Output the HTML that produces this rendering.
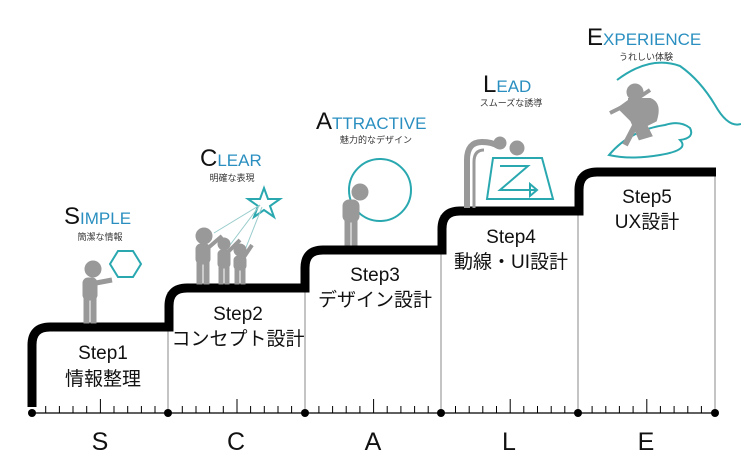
<!DOCTYPE html>
<html><head><meta charset="utf-8"><style>
html,body{margin:0;padding:0;background:#fff;}
svg{display:block;}
text{font-family:"Liberation Sans","Noto Sans CJK JP",sans-serif;}
</style></head><body>
<svg width="741" height="462" viewBox="0 0 741 462" xmlns="http://www.w3.org/2000/svg">
<g stroke="#888" stroke-width="1" fill="none">
<line x1="168" y1="292" x2="168" y2="413"/>
<line x1="305" y1="254" x2="305" y2="413"/>
<line x1="441" y1="215" x2="441" y2="413"/>
<line x1="578" y1="176" x2="578" y2="413"/>
<line x1="715" y1="176" x2="715" y2="413"/>
</g>
<path d="M32 407 V345 Q32 327 50 327 H169 V306 Q169 288 187 288 H305 V268 Q305 250 323 250 H442 V229 Q442 211 460 211 H579 V190 Q579 172 597 172 H716" stroke="#000" stroke-width="9" fill="none"/>
<line x1="32" y1="413" x2="715" y2="413" stroke="#000" stroke-width="1.3"/>
<g stroke="#000" stroke-width="1">
<path id="t" d="M45.7 413v-7M59.4 413v-7M73 413v-7M86.7 413v-7M100.4 413v-14M114 413v-7M127.7 413v-7M141.4 413v-7M155 413v-7"/>
<use href="#t" x="136.6"/><use href="#t" x="273.2"/><use href="#t" x="409.8"/><use href="#t" x="546.4"/>
</g>
<g fill="#000"><circle cx="32" cy="413" r="4"/><circle cx="168" cy="413" r="4"/><circle cx="305" cy="413" r="4"/><circle cx="441" cy="413" r="4"/><circle cx="578" cy="413" r="4"/><circle cx="715" cy="413" r="4"/></g>
<g font-size="25" text-anchor="middle" fill="#111">
<text x="100" y="450">S</text><text x="236" y="450">C</text><text x="373" y="450">A</text><text x="509" y="450">L</text><text x="646" y="450">E</text>
</g>
<g font-size="19" text-anchor="middle" fill="#111">
<text x="103" y="359">Step1</text><text x="103" y="385">情報整理</text>
<text x="238" y="320">Step2</text><text x="238" y="345">コンセプト設計</text>
<text x="375" y="281">Step3</text><text x="375" y="306">デザイン設計</text>
<text x="511" y="243">Step4</text><text x="511" y="268">動線・UI設計</text>
<text x="647" y="203">Step5</text><text x="647" y="228">UX設計</text>
</g>
<g fill="#2a8fc0" font-size="17">
<text x="64" y="224"><tspan fill="#111" font-size="24">S</tspan>IMPLE</text>
<text x="200" y="166"><tspan fill="#111" font-size="24">C</tspan>LEAR</text>
<text x="316" y="129"><tspan fill="#111" font-size="24">A</tspan>TTRACTIVE</text>
<text x="483" y="92"><tspan fill="#111" font-size="24">L</tspan>EAD</text>
<text x="587" y="45"><tspan fill="#111" font-size="24">E</tspan>XPERIENCE</text>
</g>
<g font-size="9" fill="#333" text-anchor="middle">
<text x="100" y="240">簡潔な情報</text>
<text x="232" y="181">明確な表現</text>
<text x="376" y="143">魅力的なデザイン</text>
<text x="511" y="106">スムーズな誘導</text>
<text x="646" y="60">うれしい体験</text>
</g>
<g stroke="#2aa8b0" stroke-width="2" fill="none">
<polygon points="110,264 118,251 133,251 141,264 133,277 118,277"/>
<polygon points="264,188 268,199 280,199 270,206 274,217 264,210 254,217 258,206 248,199 260,199"/>
<circle cx="380" cy="190" r="31"/>
<polygon points="493,158 542,158 553,199 487,199"/>
<path d="M500 166 H528 L500 190 H537 M530 184 L537 190 L530 196 Z"/>
<path d="M617 80 Q650 55 680 66 Q700 80 715 105 Q728 128 741 124"/>
<path d="M609 155 Q630 130 665 125 Q680 120 690 128 Q695 138 680 140 Q690 150 660 155 Q630 160 609 155 Z"/>
</g>
<g stroke="#9cc" stroke-width="1"><line x1="260" y1="205" x2="214" y2="233"/><line x1="260" y1="205" x2="230" y2="245"/><line x1="262" y1="207" x2="245" y2="250"/></g>
<g fill="#999" stroke="#999">
<circle cx="93" cy="269" r="8"/><rect x="83" y="278" width="14" height="22" rx="5"/><rect x="84" y="298" width="5" height="25"/><rect x="91" y="298" width="5" height="25"/><line x1="96" y1="283" x2="112" y2="280" stroke-width="5"/>
<circle cx="204" cy="236" r="8"/><rect x="196" y="244" width="14" height="20" rx="5"/><rect x="197" y="262" width="5" height="22"/><rect x="204" y="262" width="5" height="22"/><line x1="208" y1="248" x2="222" y2="236" stroke-width="4"/>
<circle cx="224" cy="244" r="6"/><rect x="218" y="250" width="12" height="18" rx="4"/><rect x="219" y="266" width="4" height="18"/><rect x="225" y="266" width="4" height="18"/><line x1="228" y1="252" x2="240" y2="240" stroke-width="4"/>
<circle cx="240" cy="250" r="6"/><rect x="234" y="256" width="12" height="14" rx="4"/><rect x="235" y="268" width="4" height="16"/><rect x="241" y="268" width="4" height="16"/><line x1="244" y1="257" x2="252" y2="245" stroke-width="4"/>
<circle cx="360" cy="192" r="8"/><rect x="343" y="200" width="16" height="22" rx="6"/><rect x="345" y="220" width="5" height="25"/><rect x="352" y="220" width="5" height="25"/>
<path d="M467 208 V160 Q467 142 482 142 Q492 142 498 146" fill="none" stroke-width="6"/><path d="M474 208 V162 Q474 150 484 150" fill="none" stroke-width="3"/><circle cx="517" cy="148" r="7"/><circle cx="500" cy="143" r="6"/>
<circle cx="635" cy="92" r="8"/><path d="M628 100 L650 100 Q660 104 655 120 L645 125 L650 135 L640 138 L632 120 L620 108 L610 113" fill="#999" stroke-width="4"/><line x1="638" y1="120" x2="625" y2="145" stroke-width="6"/><line x1="638" y1="98" x2="650" y2="90" stroke-width="4"/>
</g>
</svg>
</body></html>
